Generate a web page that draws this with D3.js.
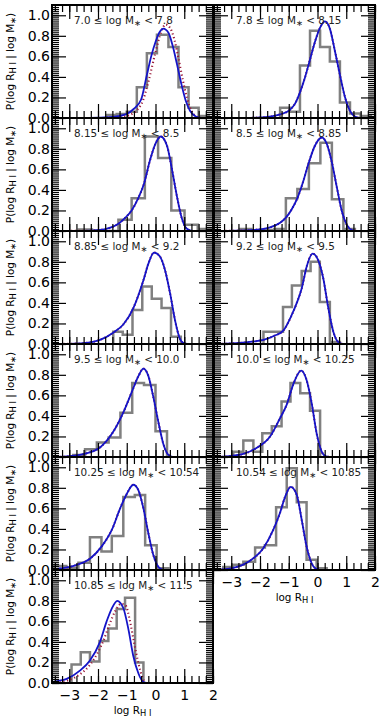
<!DOCTYPE html>
<html>
<head>
<meta charset="utf-8">
<script src="https://cdn.jsdelivr.net/npm/d3@7"></script>
<style>
  body { margin: 0; background: #fff; }
  svg { display: block; }
</style>
</head>
<body>
<svg id="drawing_region"></svg>
<script>
// stellar mass bins (one panel each)
const massLo = ["7.0", "7.8", "8.15", "8.5", "8.85", "9.2", "9.5", "10.0", "10.25", "10.54", "10.85"];
const massHi = ["7.8", "8.15", "8.5", "8.85", "9.2", "9.5", "10.0", "10.25", "10.54", "10.85", "11.5"];

// observed histograms: bin edges in log R_HI and heights
const histEdges = [
  [-1.7, -1.35, -1.0, -0.65, -0.3, 0.05, 0.45, 0.8, 1.15, 1.5, 1.85],
  [-1.3, -0.96, -0.61, -0.26, 0.09, 0.43, 0.78, 1.13, 1.5, 1.85],
  [-2.67, -2.21, -1.75, -1.29, -0.83, -0.37, 0.09, 0.55, 1.01, 1.47, 1.93],
  [-2.7, -2.3, -1.9, -1.5, -1.1, -0.7, -0.3, 0.1, 0.5, 0.9, 1.3],
  [-1.47, -1.14, -0.80, -0.46, -0.13, 0.21, 0.54, 0.88],
  [-1.88, -1.54, -1.2, -0.89, -0.55, -0.24, 0.08, 0.43, 0.78],
  [-2.86, -2.45, -2.04, -1.63, -1.22, -0.81, -0.40, 0.0, 0.40],
  [-2.93, -2.58, -2.23, -1.92, -1.59, -1.25, -0.94, -0.60, -0.26, 0.09],
  [-3.52, -3.10, -2.68, -2.28, -1.88, -1.52, -1.12, -0.72, -0.36, 0.04, 0.45],
  [-3.28, -2.93, -2.58, -2.17, -1.83, -1.44, -1.07, -0.72, -0.38, -0.03, 0.32],
  [-2.92, -2.60, -2.28, -1.95, -1.64, -1.35, -1.06, -0.71, -0.42]
];
const histHeights = [
  [0.03, 0.04, 0.06, 0.30, 0.63, 0.81, 0.69, 0.30, 0.10, 0.02],
  [0.10, 0.06, 0.51, 0.85, 0.69, 0.55, 0.15, 0.045, 0.02],
  [0.015, 0.005, 0, 0.11, 0.32, 0.92, 0.71, 0.20, 0.06, 0.02],
  [0.02, 0, 0.01, 0.02, 0.32, 0.41, 0.66, 0.86, 0.31, 0.02],
  [0.12, 0.09, 0.33, 0.56, 0.44, 0.35, 0.07],
  [0.12, 0.12, 0.36, 0.57, 0.71, 0.80, 0.41, 0.02],
  [0.02, 0.075, 0.14, 0.19, 0.43, 0.72, 0.70, 0.25],
  [0.05, 0.16, 0.05, 0.23, 0.30, 0.54, 0.72, 0.62, 0.45],
  [0.04, 0.016, 0.07, 0.32, 0.18, 0.33, 0.71, 0.73, 0.24, 0.016],
  [0.03, 0.05, 0.08, 0.22, 0.24, 0.61, 0.99, 0.66, 0.10, 0.016],
  [0.18, 0.30, 0.21, 0.41, 0.53, 0.72, 0.83, 0.20]
];

// fitted distributions (blue), [log R_HI, P]
const fitCurves = [
  [[-3.6,0],[-2.5,0],[-2.0,0.003],[-1.5,0.01],[-1.0,0.04],[-0.75,0.09],[-0.5,0.18],[-0.3,0.42],[-0.15,0.6],[0,0.74],[0.15,0.84],[0.27,0.87],[0.45,0.83],[0.6,0.70],[0.75,0.52],[0.9,0.33],[1.05,0.17],[1.2,0.07],[1.4,0.015],[1.6,0],[2,0]],
  [[-3.6,0],[-2.5,0],[-2,0.005],[-1.6,0.015],[-1.3,0.035],[-0.96,0.08],[-0.78,0.14],[-0.61,0.25],[-0.43,0.40],[-0.26,0.57],[-0.09,0.74],[0.09,0.88],[0.26,0.94],[0.43,0.87],[0.6,0.66],[0.78,0.42],[0.95,0.21],[1.13,0.07],[1.3,0.015],[1.5,0],[2,0]],
  [[-3.6,0],[-2.5,0.002],[-2.0,0.008],[-1.6,0.03],[-1.29,0.07],[-1.05,0.13],[-0.83,0.2],[-0.6,0.32],[-0.4,0.46],[-0.19,0.69],[0,0.85],[0.18,0.92],[0.4,0.83],[0.56,0.62],[0.73,0.36],[0.91,0.13],[1.08,0.025],[1.3,0],[2,0]],
  [[-3.6,0],[-2.8,0.003],[-2.23,0.01],[-1.65,0.035],[-1.3,0.08],[-1.1,0.13],[-0.9,0.21],[-0.7,0.32],[-0.5,0.48],[-0.32,0.65],[-0.09,0.83],[0.15,0.91],[0.32,0.85],[0.49,0.68],[0.67,0.43],[0.85,0.19],[1.02,0.06],[1.2,0.01],[1.4,0],[2,0]],
  [[-3.6,0],[-3,0.002],[-2.51,0.008],[-1.93,0.04],[-1.47,0.11],[-1.12,0.19],[-0.77,0.35],[-0.6,0.47],[-0.42,0.62],[-0.25,0.78],[-0.05,0.89],[0.16,0.85],[0.33,0.72],[0.51,0.49],[0.68,0.23],[0.85,0.05],[1.0,0.005],[1.2,0],[2,0]],
  [[-3.6,0],[-3.2,0.003],[-2.7,0.01],[-2.2,0.025],[-1.88,0.04],[-1.5,0.08],[-1.19,0.13],[-0.9,0.28],[-0.72,0.40],[-0.55,0.54],[-0.38,0.75],[-0.17,0.88],[0.02,0.82],[0.2,0.64],[0.37,0.36],[0.55,0.12],[0.72,0.02],[0.9,0],[2,0]],
  [[-3.6,0],[-3.09,0.005],[-2.48,0.03],[-1.9,0.10],[-1.46,0.25],[-1.11,0.44],[-0.83,0.63],[-0.59,0.79],[-0.42,0.86],[-0.25,0.79],[-0.08,0.59],[0.1,0.34],[0.27,0.13],[0.45,0.02],[0.6,0],[2,0]],
  [[-3.6,0],[-3.28,0.003],[-2.58,0.03],[-2.11,0.09],[-1.65,0.20],[-1.30,0.38],[-1.07,0.51],[-0.84,0.71],[-0.57,0.84],[-0.38,0.75],[-0.2,0.52],[-0.03,0.23],[0.15,0.05],[0.3,0.005],[0.5,0],[2,0]],
  [[-3.6,0.005],[-3.43,0.01],[-2.74,0.05],[-2.28,0.11],[-1.87,0.23],[-1.52,0.39],[-1.23,0.60],[-1.0,0.74],[-0.77,0.83],[-0.6,0.78],[-0.42,0.60],[-0.25,0.36],[-0.08,0.15],[0.1,0.03],[0.27,0],[2,0]],
  [[-3.6,0],[-2.93,0.02],[-2.35,0.09],[-1.89,0.21],[-1.54,0.39],[-1.30,0.56],[-1.13,0.71],[-0.93,0.81],[-0.72,0.73],[-0.55,0.49],[-0.38,0.23],[-0.21,0.07],[-0.03,0.01],[0.15,0],[2,0]],
  [[-3.6,0.005],[-3.55,0.01],[-3.09,0.04],[-2.63,0.12],[-2.28,0.22],[-1.93,0.40],[-1.70,0.60],[-1.53,0.72],[-1.33,0.80],[-1.12,0.73],[-0.94,0.52],[-0.77,0.26],[-0.59,0.09],[-0.42,0.01],[-0.25,0],[2,0]]
];

// model curves (red dotted); null means it sits on the fitted curve
const modelCurves = [
  [[-3.6,0],[-2,0],[-1.5,0.005],[-1.0,0.02],[-0.5,0.13],[-0.25,0.35],[0,0.64],[0.2,0.84],[0.35,0.91],[0.5,0.88],[0.65,0.77],[0.8,0.58],[0.95,0.37],[1.1,0.19],[1.25,0.07],[1.4,0.02],[1.6,0],[2,0]],
  null, null, null, null, null, null, null, null, null,
  [[-3.6,0],[-3.0,0.03],[-2.6,0.09],[-2.3,0.17],[-2.0,0.30],[-1.8,0.42],[-1.6,0.57],[-1.4,0.70],[-1.2,0.77],[-1.05,0.76],[-0.9,0.62],[-0.75,0.40],[-0.6,0.20],[-0.45,0.05],[-0.3,0],[2,0]]
];

const xTicks = [-3, -2, -1, 0, 1, 2];
const yTicks = [0, 0.2, 0.4, 0.6, 0.8, 1.0];
const xMinor = d3.range(-3.5, 2.01, 0.25);
const yMinor = d3.range(0, 1.1, 0.02);

const W = 386, H = 721;
const colLeft = [52, 214], panelW = 161, top0 = 5, panelH = 113;
const font = "'DejaVu Sans', sans-serif";

const svg = d3.select('#drawing_region')
    .attr('width', W)
    .attr('height', H);

function subText(sel, parts) {
    // parts: [text, isSub]
    parts.forEach(p => {
        const t = sel.append('tspan').text(p[0]);
        if (p[1]) t.attr('baseline-shift', '-30%').attr('font-size', '80%');
    });
}

massLo.forEach((lo, i) => {
    const col = i % 2, row = Math.floor(i / 2);
    const x0 = colLeft[col], y0 = top0 + row * panelH;
    const isBottom = (i === 9 || i === 10);

    const x = d3.scaleLinear().domain([-3.6, 2]).range([x0, x0 + panelW]);
    const y = d3.scaleLinear().domain([0, 1.1]).range([y0 + panelH, y0]);
    const g = svg.append('g');

    // histogram outline
    const e = histEdges[i], h = histHeights[i];
    const pts = [[e[0], 0]];
    h.forEach((v, k) => { pts.push([e[k], v], [e[k + 1], v]); });
    pts.push([e[e.length - 1], 0]);
    g.append('path')
        .attr('d', d3.line().x(d => x(d[0])).y(d => y(d[1]))(pts))
        .attr('fill', 'none')
        .attr('stroke', '#808080')
        .attr('stroke-width', 2.5);

    const line = d3.line()
        .x(d => x(d[0]))
        .y(d => y(d[1]))
        .curve(d3.curveMonotoneX);

    g.append('path')
        .attr('d', line(modelCurves[i] || fitCurves[i]))
        .attr('fill', 'none')
        .attr('stroke', '#9a1838')
        .attr('stroke-width', 2.1)
        .attr('stroke-dasharray', '1.2,2.6');

    g.append('path')
        .attr('d', line(fitCurves[i]))
        .attr('fill', 'none')
        .attr('stroke', '#1414c8')
        .attr('stroke-width', 1.8);

    // ticks, all pointing inward
    const axes = [
        [d3.axisBottom(x), `translate(0,${y0 + panelH})`, xTicks, xMinor, isBottom],
        [d3.axisTop(x), `translate(0,${y0})`, xTicks, xMinor, false],
        [d3.axisLeft(y), `translate(${x0},0)`, yTicks, yMinor, col === 0],
        [d3.axisRight(y), `translate(${x0 + panelW},0)`, yTicks, yMinor, false]
    ];
    axes.forEach(a => {
        const isX = (a[2] === xTicks);
        const minor = g.append('g')
            .attr('transform', a[1])
            .call(a[0].tickValues(a[3]).tickSize(-7).tickFormat(''));
        minor.select('.domain').remove();
        const fmt = a[4] ? (isX ? d3.format('d') : d3.format('.1f')) : () => '';
        const major = g.append('g')
            .attr('transform', a[1])
            .call(a[0].tickValues(a[2]).tickSize(-14).tickPadding(isX ? 7 : 2).tickFormat(fmt));
        major.select('.domain').remove();
        g.selectAll('.tick line').attr('stroke', '#000').attr('stroke-width', 1.2);
        major.selectAll('text')
            .attr('fill', '#000')
            .style('font-family', font)
            .style('font-size', '14px');
    });

    // frame
    g.append('rect')
        .attr('x', x0).attr('y', y0)
        .attr('width', panelW).attr('height', panelH)
        .attr('fill', 'none')
        .attr('stroke', '#000')
        .attr('stroke-width', 2);

    // panel title
    const title = g.append('text')
        .attr('x', x0 + 22)
        .attr('y', y0 + 19)
        .attr('fill', '#222')
        .style('font-family', font)
        .style('font-size', '10.4px');
    subText(title, [[`${lo} \u2264 log M`, false], ['\u2217', true], [` < ${massHi[i]}`, false]]);

    // y label
    if (col === 0) {
        const yl = g.append('text')
            .attr('transform', `translate(14,${y0 + panelH / 2}) rotate(-90)`)
            .attr('text-anchor', 'middle')
            .attr('fill', '#000')
            .style('font-family', font)
            .style('font-size', '10.4px');
        subText(yl, [['P(log R', false], ['H I', true], [' | log M', false], ['\u2217', true], [')', false]]);
    }

    // x label
    if (isBottom) {
        const xl = g.append('text')
            .attr('x', x0 + panelW / 2)
            .attr('y', y0 + panelH + 31)
            .attr('text-anchor', 'middle')
            .attr('fill', '#000')
            .style('font-family', font)
            .style('font-size', '10.4px');
        subText(xl, [['log R', false], ['H I', true]]);
    }
});
</script>
</body>
</html>
